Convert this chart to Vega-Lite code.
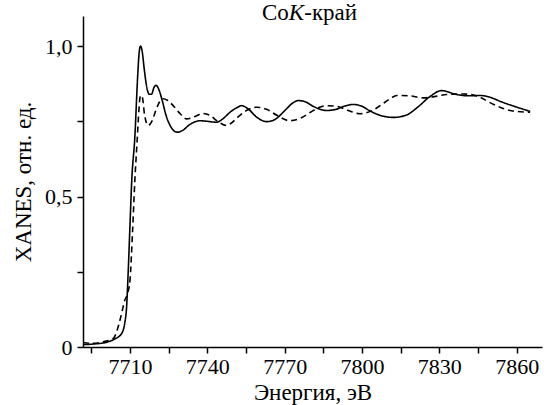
{
  "$schema": "https://vega.github.io/schema/vega-lite/v6.json",
  "width": 459,
  "height": 331,
  "autosize": {"type": "none"},
  "padding": {"left": 83, "top": 16, "right": 2, "bottom": 58},
  "config": {
    "view": {"stroke": null},
    "font": "Liberation Serif",
    "axis": {
      "domainColor": "black", "domainWidth": 1.5, "tickColor": "black", "tickWidth": 1.5, "tickSize": 6,
      "labelColor": "black", "titleColor": "black", "labelFont": "Liberation Serif", "titleFont": "Liberation Serif",
      "labelFontSize": 22, "titleFontSize": 23, "titleFontWeight": "normal", "grid": false
    }
  },
  "datasets": {
    "curves": [
      {"E": 7691.8, "v": 0.008, "s": "solid"},
      {"E": 7696, "v": 0.010, "s": "solid"},
      {"E": 7701, "v": 0.016, "s": "solid"},
      {"E": 7704, "v": 0.026, "s": "solid"},
      {"E": 7706.8, "v": 0.045, "s": "solid"},
      {"E": 7708, "v": 0.08, "s": "solid"},
      {"E": 7708.7, "v": 0.132, "s": "solid"},
      {"E": 7709.3, "v": 0.244, "s": "solid"},
      {"E": 7710.0, "v": 0.40, "s": "solid"},
      {"E": 7710.7, "v": 0.553, "s": "solid"},
      {"E": 7711.9, "v": 0.697, "s": "solid"},
      {"E": 7713.0, "v": 0.90, "s": "solid"},
      {"E": 7713.6, "v": 0.98, "s": "solid"},
      {"E": 7714.1, "v": 1.0, "s": "solid"},
      {"E": 7714.7, "v": 0.985, "s": "solid"},
      {"E": 7715.6, "v": 0.92, "s": "solid"},
      {"E": 7716.6, "v": 0.86, "s": "solid"},
      {"E": 7717.5, "v": 0.84, "s": "solid"},
      {"E": 7718.4, "v": 0.84, "s": "solid"},
      {"E": 7719.3, "v": 0.862, "s": "solid"},
      {"E": 7720.1, "v": 0.87, "s": "solid"},
      {"E": 7721.0, "v": 0.86, "s": "solid"},
      {"E": 7722.5, "v": 0.82, "s": "solid"},
      {"E": 7724, "v": 0.77, "s": "solid"},
      {"E": 7726, "v": 0.73, "s": "solid"},
      {"E": 7728.3, "v": 0.714, "s": "solid"},
      {"E": 7730.5, "v": 0.72, "s": "solid"},
      {"E": 7733, "v": 0.738, "s": "solid"},
      {"E": 7737.2, "v": 0.752, "s": "solid"},
      {"E": 7740, "v": 0.75, "s": "solid"},
      {"E": 7743.6, "v": 0.747, "s": "solid"},
      {"E": 7746, "v": 0.758, "s": "solid"},
      {"E": 7748.8, "v": 0.78, "s": "solid"},
      {"E": 7751.4, "v": 0.795, "s": "solid"},
      {"E": 7753.3, "v": 0.802, "s": "solid"},
      {"E": 7756, "v": 0.79, "s": "solid"},
      {"E": 7759, "v": 0.765, "s": "solid"},
      {"E": 7763, "v": 0.749, "s": "solid"},
      {"E": 7766, "v": 0.755, "s": "solid"},
      {"E": 7770, "v": 0.785, "s": "solid"},
      {"E": 7773, "v": 0.81, "s": "solid"},
      {"E": 7775.3, "v": 0.819, "s": "solid"},
      {"E": 7778, "v": 0.815, "s": "solid"},
      {"E": 7781, "v": 0.80, "s": "solid"},
      {"E": 7786.3, "v": 0.786, "s": "solid"},
      {"E": 7790, "v": 0.79, "s": "solid"},
      {"E": 7793, "v": 0.80, "s": "solid"},
      {"E": 7796.6, "v": 0.806, "s": "solid"},
      {"E": 7800, "v": 0.80, "s": "solid"},
      {"E": 7803, "v": 0.785, "s": "solid"},
      {"E": 7807, "v": 0.77, "s": "solid"},
      {"E": 7812.1, "v": 0.763, "s": "solid"},
      {"E": 7817, "v": 0.77, "s": "solid"},
      {"E": 7822, "v": 0.80, "s": "solid"},
      {"E": 7826, "v": 0.83, "s": "solid"},
      {"E": 7830.9, "v": 0.852, "s": "solid"},
      {"E": 7836.7, "v": 0.839, "s": "solid"},
      {"E": 7841, "v": 0.835, "s": "solid"},
      {"E": 7845.8, "v": 0.836, "s": "solid"},
      {"E": 7849.6, "v": 0.83, "s": "solid"},
      {"E": 7854, "v": 0.815, "s": "solid"},
      {"E": 7859, "v": 0.80, "s": "solid"},
      {"E": 7865.2, "v": 0.783, "s": "solid"},
      {"E": 7691.8, "v": 0.015, "s": "dashed"},
      {"E": 7695.6, "v": 0.012, "s": "dashed"},
      {"E": 7700, "v": 0.018, "s": "dashed"},
      {"E": 7703.5, "v": 0.028, "s": "dashed"},
      {"E": 7706.1, "v": 0.088, "s": "dashed"},
      {"E": 7707, "v": 0.12, "s": "dashed"},
      {"E": 7708, "v": 0.155, "s": "dashed"},
      {"E": 7709, "v": 0.175, "s": "dashed"},
      {"E": 7710, "v": 0.22, "s": "dashed"},
      {"E": 7711, "v": 0.38, "s": "dashed"},
      {"E": 7711.9, "v": 0.553, "s": "dashed"},
      {"E": 7712.8, "v": 0.686, "s": "dashed"},
      {"E": 7713.5, "v": 0.79, "s": "dashed"},
      {"E": 7714.1, "v": 0.836, "s": "dashed"},
      {"E": 7714.8, "v": 0.83, "s": "dashed"},
      {"E": 7715.7, "v": 0.77, "s": "dashed"},
      {"E": 7717.1, "v": 0.736, "s": "dashed"},
      {"E": 7718.5, "v": 0.75, "s": "dashed"},
      {"E": 7720, "v": 0.785, "s": "dashed"},
      {"E": 7721.5, "v": 0.815, "s": "dashed"},
      {"E": 7722.9, "v": 0.825, "s": "dashed"},
      {"E": 7724.5, "v": 0.82, "s": "dashed"},
      {"E": 7727, "v": 0.80, "s": "dashed"},
      {"E": 7729.5, "v": 0.775, "s": "dashed"},
      {"E": 7732, "v": 0.758, "s": "dashed"},
      {"E": 7735, "v": 0.765, "s": "dashed"},
      {"E": 7738.3, "v": 0.776, "s": "dashed"},
      {"E": 7741, "v": 0.77, "s": "dashed"},
      {"E": 7744, "v": 0.75, "s": "dashed"},
      {"E": 7747.5, "v": 0.736, "s": "dashed"},
      {"E": 7748.8, "v": 0.741, "s": "dashed"},
      {"E": 7752, "v": 0.765, "s": "dashed"},
      {"E": 7755, "v": 0.785, "s": "dashed"},
      {"E": 7759.1, "v": 0.797, "s": "dashed"},
      {"E": 7763, "v": 0.79, "s": "dashed"},
      {"E": 7767, "v": 0.77, "s": "dashed"},
      {"E": 7772, "v": 0.752, "s": "dashed"},
      {"E": 7776, "v": 0.76, "s": "dashed"},
      {"E": 7780, "v": 0.78, "s": "dashed"},
      {"E": 7783, "v": 0.795, "s": "dashed"},
      {"E": 7786.3, "v": 0.802, "s": "dashed"},
      {"E": 7790, "v": 0.80, "s": "dashed"},
      {"E": 7795, "v": 0.785, "s": "dashed"},
      {"E": 7799.2, "v": 0.775, "s": "dashed"},
      {"E": 7804.4, "v": 0.788, "s": "dashed"},
      {"E": 7807, "v": 0.802, "s": "dashed"},
      {"E": 7810.9, "v": 0.825, "s": "dashed"},
      {"E": 7813.5, "v": 0.836, "s": "dashed"},
      {"E": 7818, "v": 0.835, "s": "dashed"},
      {"E": 7823.8, "v": 0.828, "s": "dashed"},
      {"E": 7828, "v": 0.832, "s": "dashed"},
      {"E": 7832.9, "v": 0.839, "s": "dashed"},
      {"E": 7839.3, "v": 0.841, "s": "dashed"},
      {"E": 7845.8, "v": 0.83, "s": "dashed"},
      {"E": 7849, "v": 0.815, "s": "dashed"},
      {"E": 7853.5, "v": 0.797, "s": "dashed"},
      {"E": 7858, "v": 0.785, "s": "dashed"},
      {"E": 7865.2, "v": 0.78, "s": "dashed"}
    ]
  },
  "layer": [
    {
      "data": {"name": "curves"},
      "mark": {"type": "line", "interpolate": "monotone", "color": "black", "strokeWidth": 1.6, "clip": true},
      "encoding": {
        "x": {
          "field": "E", "type": "quantitative",
          "scale": {"domain": [7691.8, 7869.8], "nice": false, "zero": false},
          "axis": {
            "title": "Энергия, эВ",
            "values": [7695, 7710, 7725, 7740, 7755, 7770, 7785, 7800, 7815, 7830, 7845, 7860],
            "format": "d",
            "labelExpr": "(datum.value - 7710) % 30 == 0 ? datum.label : ''",
            "labelPadding": 3,
            "titlePadding": 4
          }
        },
        "y": {
          "field": "v", "type": "quantitative",
          "scale": {"domain": [0, 1.1], "nice": false},
          "axis": {
            "title": "XANES, отн. ед.",
            "values": [0, 0.25, 0.5, 0.75, 1.0],
            "labelExpr": "datum.value == 0 ? '0' : datum.value == 0.5 ? '0,5' : datum.value == 1 ? '1,0' : ''",
            "labelPadding": 5,
            "titlePadding": 9
          }
        },
        "strokeDash": {
          "field": "s", "type": "nominal",
          "scale": {"domain": ["solid", "dashed"], "range": [[1, 0], [6, 4]]},
          "legend": null
        }
      }
    },
    {
      "data": {"values": [{"E": 7771.6, "v": 1.087, "t": "Co"}]},
      "mark": {"type": "text", "align": "right", "baseline": "alphabetic", "fontSize": 23, "font": "Liberation Serif", "color": "black"},
      "encoding": {"x": {"field": "E", "type": "quantitative"}, "y": {"field": "v", "type": "quantitative"}, "text": {"field": "t"}}
    },
    {
      "data": {"values": [{"E": 7771.6, "v": 1.087, "t": "K"}]},
      "mark": {"type": "text", "align": "left", "baseline": "alphabetic", "fontSize": 23, "fontStyle": "italic", "font": "Liberation Serif", "color": "black"},
      "encoding": {"x": {"field": "E", "type": "quantitative"}, "y": {"field": "v", "type": "quantitative"}, "text": {"field": "t"}}
    },
    {
      "data": {"values": [{"E": 7777.6, "v": 1.087, "t": "-край"}]},
      "mark": {"type": "text", "align": "left", "baseline": "alphabetic", "fontSize": 23, "font": "Liberation Serif", "color": "black"},
      "encoding": {"x": {"field": "E", "type": "quantitative"}, "y": {"field": "v", "type": "quantitative"}, "text": {"field": "t"}}
    }
  ]
}
